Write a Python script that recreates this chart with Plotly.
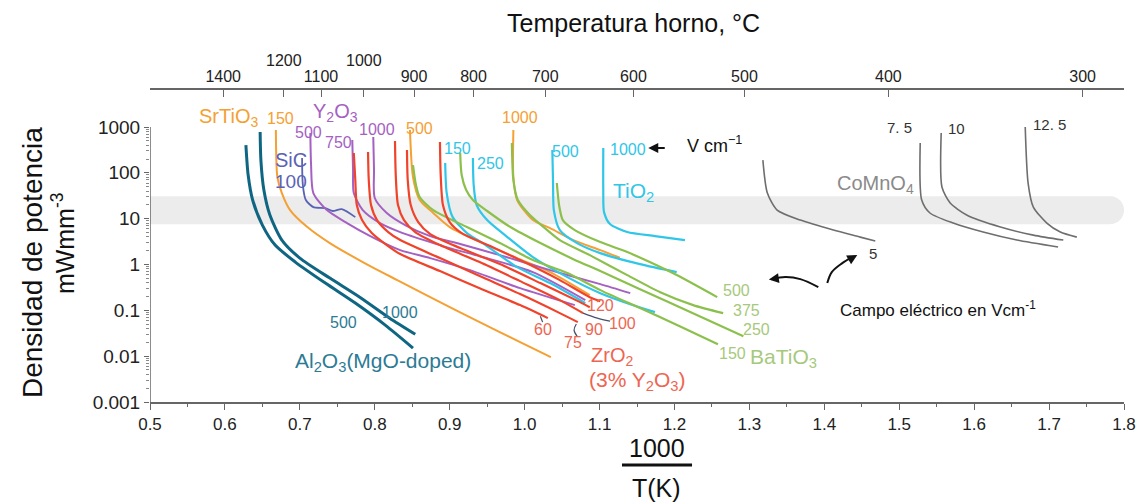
import numpy as np
import plotly.graph_objects as go

# ---------------- data: x = 1000/T (1/K), y = power density (mW/mm^3) ----------------
al2o3_500_x = [0.628, 0.631, 0.637, 0.650, 0.667, 0.694, 0.734, 0.774, 0.814, 0.851]
al2o3_500_y = [404, 89.5, 25.5, 7.25, 2.65, 1.13, 0.393, 0.144, 0.0475, 0.015]
al2o3_1000_x = [0.647, 0.648, 0.652, 0.660, 0.676, 0.700, 0.740, 0.780, 0.820, 0.854]
al2o3_1000_y = [778, 190, 42.1, 12.0, 3.41, 1.38, 0.505, 0.194, 0.0676, 0.0302]

srtio3_150_x = [0.668, 0.670, 0.676, 0.687, 0.710, 0.740, 0.784, 0.830, 0.874, 0.940, 0.994, 1.035]
srtio3_150_y = [860, 81, 36.2, 15.4, 6.56, 2.93, 1.13, 0.456, 0.194, 0.0553, 0.0202, 0.0095]
srtio3_500_x = [0.847, 0.851, 0.860, 0.878, 0.900, 0.944, 0.990, 1.034, 1.087]
srtio3_500_y = [860, 81, 25.5, 13.3, 6.56, 2.93, 1.38, 0.682, 0.215]
srtio3_1000_x = [0.985, 0.985, 0.990, 1.011, 1.034, 1.065, 1.101, 1.127]
srtio3_1000_y = [860, 81, 25.5, 9.31, 6.23, 3.41, 2.06, 1.40]

sic_100_x = [0.703, 0.704, 0.708, 0.718, 0.734, 0.744, 0.756, 0.774]
sic_100_y = [210, 54.2, 25.5, 17.9, 17.0, 14.7, 16.2, 10.8]

y2o3_500_x = [0.714, 0.715, 0.718, 0.736, 0.763, 0.794, 0.834, 0.874, 0.927, 0.994, 1.067]
y2o3_500_y = [740, 148, 36.2, 15.4, 8.02, 4.17, 2.06, 1.38, 0.755, 0.305, 0.130]
y2o3_750_x = [0.770, 0.771, 0.772, 0.784, 0.807, 0.834, 0.874, 0.900, 0.940, 1.011, 1.081]
y2o3_750_y = [520, 115, 36.2, 15.4, 8.02, 5.10, 3.08, 2.28, 1.52, 0.682, 0.167]
y2o3_1000_x = [0.798, 0.799, 0.800, 0.816, 0.843, 0.874, 0.914, 0.967, 1.034, 1.101, 1.141]
y2o3_1000_y = [605, 115, 28.2, 13.3, 6.89, 4.17, 2.79, 1.60, 0.755, 0.373, 0.237]

zro2_60_x = [0.772, 0.774, 0.776, 0.783, 0.796, 0.816, 0.834, 0.887, 0.940, 0.994, 1.031]
zro2_60_y = [271, 69.6, 19.8, 9.31, 4.85, 2.65, 1.69, 0.718, 0.305, 0.130, 0.0676]
zro2_75_x = [0.791, 0.792, 0.795, 0.803, 0.818, 0.834, 0.887, 0.940, 0.994, 1.047, 1.071]
zro2_75_y = [285, 69.6, 19.8, 9.31, 5.10, 3.41, 1.38, 0.558, 0.226, 0.0869, 0.0553]
zro2_90_x = [0.827, 0.828, 0.831, 0.839, 0.854, 0.887, 0.940, 0.994, 1.047, 1.078]
zro2_90_y = [494, 89.5, 19.8, 9.31, 5.10, 2.65, 1.13, 0.434, 0.167, 0.0869]
zro2_100_x = [0.843, 0.844, 0.848, 0.858, 0.874, 0.914, 0.967, 1.021, 1.074, 1.087]
zro2_100_y = [315, 69.6, 19.8, 8.43, 4.61, 2.28, 1.02, 0.393, 0.151, 0.117]
zro2_120_x = [0.887, 0.888, 0.891, 0.900, 0.916, 0.954, 0.994, 1.047, 1.087, 1.101]
zro2_120_y = [470, 89.5, 19.8, 8.43, 4.85, 2.52, 1.25, 0.456, 0.194, 0.158]

tio2_150_x = [0.894, 0.896, 0.904, 0.923, 0.944, 0.990, 1.034, 1.081]
tio2_150_y = [164, 36.2, 10.8, 4.85, 2.93, 0.877, 0.393, 0.144]
tio2_250_x = [0.931, 0.932, 0.936, 0.950, 0.977, 1.011, 1.057, 1.101, 1.141, 1.174]
tio2_250_y = [210, 54.2, 19.8, 9.31, 3.96, 1.45, 0.531, 0.237, 0.136, 0.0914]
tio2_500_x = [1.037, 1.038, 1.039, 1.047, 1.070, 1.101, 1.154, 1.203]
tio2_500_y = [315, 54.2, 15.4, 5.64, 2.93, 1.77, 1.02, 0.682]
tio2_1000_x = [1.105, 1.105, 1.106, 1.114, 1.137, 1.174, 1.214]
tio2_1000_y = [348, 42.1, 13.9, 7.62, 5.10, 4.17, 3.41]

batio3_150_x = [0.851, 0.855, 0.860, 0.878, 0.923, 0.967, 1.011, 1.057, 1.101, 1.154, 1.207, 1.258]
batio3_150_y = [148, 54.2, 29.6, 15.4, 6.56, 2.93, 1.25, 0.649, 0.276, 0.112, 0.0452, 0.0183]
batio3_250_x = [0.914, 0.916, 0.922, 0.931, 0.950, 0.981, 1.021, 1.065, 1.101, 1.154, 1.221, 1.292]
batio3_250_y = [271, 89.5, 42.1, 25.5, 14.7, 6.56, 2.93, 1.31, 0.718, 0.290, 0.0914, 0.0273]
batio3_375_x = [0.983, 0.985, 0.991, 1.007, 1.027, 1.047, 1.087, 1.137, 1.181, 1.225, 1.265]
batio3_375_y = [448, 69.6, 25.5, 12.0, 6.23, 3.41, 1.60, 0.587, 0.249, 0.130, 0.0869]
batio3_500_x = [1.043, 1.046, 1.051, 1.067, 1.101, 1.137, 1.167, 1.203, 1.257]
batio3_500_y = [59.9, 19.8, 9.31, 5.64, 3.08, 1.87, 1.13, 0.587, 0.194]

comno4_5_x = [1.318, 1.324, 1.337, 1.368, 1.412, 1.448, 1.468]
comno4_5_y = [190, 36.2, 15.4, 9.31, 5.64, 3.96, 3.24]
comno4_75_x = [1.528, 1.530, 1.541, 1.572, 1.612, 1.657, 1.712]
comno4_75_y = [448, 25.5, 13.3, 8.02, 5.10, 3.41, 2.40]
comno4_10_x = [1.556, 1.557, 1.568, 1.590, 1.635, 1.679, 1.719]
comno4_10_y = [740, 49.0, 21.9, 12.0, 6.56, 4.38, 3.41]
comno4_125_x = [1.668, 1.672, 1.679, 1.697, 1.715, 1.737]
comno4_125_y = [1223, 59.9, 17.9, 8.02, 5.10, 3.96]

# label leaders (ZrO2)
leader_100_x = [1.078, 1.097, 1.114]
leader_100_y = [0.0869, 0.0676, 0.058]
leader_75_x = [1.069, 1.066, 1.070]
leader_75_y = [0.0503, 0.037, 0.0273]
leader_60_x = [1.021, 1.024]
leader_60_y = [0.0746, 0.0553]

# axis ticks
x_ticks = [0.5, 0.6, 0.7, 0.8, 0.9, 1.0, 1.1, 1.2, 1.3, 1.4, 1.5, 1.6, 1.7, 1.8]
y_tickvals = [0.001, 0.01, 0.1, 1, 10, 100, 1000]
y_ticktext = ["0.001", "0.01", "0.1", "1", "10", "100", "1000"]
top_temps_c = [1400, 1200, 1100, 1000, 900, 800, 700, 600, 500, 400, 300]
top_raised = [1200, 1000]

# target band (mW/mm^3)
band_low, band_high = 7.6, 31.0

# ---------------- style ----------------
FONT = "Liberation Sans, Arial, sans-serif"
NARROW = "Liberation Sans Narrow, Liberation Sans, Arial, sans-serif"
TEAL = "#0f6683"
ORANGE = "#f5a033"
SIC = "#5a62b5"
PURPLE = "#a561c2"
RED = "#f0432b"
CYAN = "#2fc6e8"
GREEN = "#8cc04c"
GRAY = "#6e6e6e"
YDOM_TOP = (402 - 127) / 312.0

fig = go.Figure()

# band (filled polygon with rounded right end)
lc = (np.log10(band_low) + np.log10(band_high)) / 2
hh = (np.log10(band_high) - np.log10(band_low)) / 2
rx = 0.0187
xr_end = 1.8 - rx
t = np.linspace(-np.pi / 2, np.pi / 2, 25)
bx = [0.5] + list(xr_end + rx * np.cos(t)) + [0.5]
by = [band_low] + list(10 ** (lc + hh * np.sin(t))) + [band_high]
fig.add_trace(go.Scatter(x=bx, y=by, fill="toself", fillcolor="#ececec", mode="none",
                         hoverinfo="skip", showlegend=False))

curves = [
    (srtio3_150_x, srtio3_150_y, ORANGE, 2),
    (srtio3_500_x, srtio3_500_y, ORANGE, 2),
    (srtio3_1000_x, srtio3_1000_y, ORANGE, 2),
    (sic_100_x, sic_100_y, SIC, 1.8),
    (y2o3_500_x, y2o3_500_y, PURPLE, 2),
    (y2o3_750_x, y2o3_750_y, PURPLE, 2),
    (y2o3_1000_x, y2o3_1000_y, PURPLE, 2),
    (tio2_150_x, tio2_150_y, CYAN, 2.2),
    (tio2_250_x, tio2_250_y, CYAN, 2.2),
    (tio2_500_x, tio2_500_y, CYAN, 2.2),
    (tio2_1000_x, tio2_1000_y, CYAN, 2.2),
    (batio3_150_x, batio3_150_y, GREEN, 2.2),
    (batio3_250_x, batio3_250_y, GREEN, 2.2),
    (batio3_375_x, batio3_375_y, GREEN, 2.2),
    (batio3_500_x, batio3_500_y, GREEN, 2.2),
    (zro2_60_x, zro2_60_y, RED, 2.2),
    (zro2_75_x, zro2_75_y, RED, 2.2),
    (zro2_90_x, zro2_90_y, RED, 2.2),
    (zro2_100_x, zro2_100_y, RED, 2.2),
    (zro2_120_x, zro2_120_y, RED, 2.2),
    (al2o3_500_x, al2o3_500_y, TEAL, 3),
    (al2o3_1000_x, al2o3_1000_y, TEAL, 3),
    (comno4_5_x, comno4_5_y, GRAY, 1.6),
    (comno4_75_x, comno4_75_y, GRAY, 1.6),
    (comno4_10_x, comno4_10_y, GRAY, 1.6),
    (comno4_125_x, comno4_125_y, GRAY, 1.6),
]
for cx, cy, col, w in curves:
    fig.add_trace(go.Scatter(x=cx, y=cy, mode="lines",
                             line=dict(color=col, width=w, shape="spline", smoothing=0.7),
                             hoverinfo="skip", showlegend=False))

for lx, ly in [(leader_100_x, leader_100_y), (leader_75_x, leader_75_y), (leader_60_x, leader_60_y)]:
    fig.add_trace(go.Scatter(x=lx, y=ly, mode="lines", line=dict(color="#45506a", width=1.2, shape="spline"),
                             hoverinfo="skip", showlegend=False))

# curved arrows near "Campo eléctrico"
arrow1_x = [1.392, 1.368, 1.348, 1.330]
arrow1_y = [0.321, 0.48, 0.531, 0.48]
arrow2_x = [1.404, 1.410, 1.424, 1.437]
arrow2_y = [0.393, 0.682, 1.07, 1.45]
for ax_, ay_ in [(arrow1_x, arrow1_y), (arrow2_x, arrow2_y)]:
    fig.add_trace(go.Scatter(x=ax_, y=ay_, mode="lines", line=dict(color="#111", width=2, shape="spline"),
                             hoverinfo="skip", showlegend=False))

# y-axis line (only spanning 0.001..1000)
fig.add_trace(go.Scatter(x=[0.5, 0.5], y=[0.001, 1000], mode="lines", line=dict(color="#666", width=1.5),
                         hoverinfo="skip", showlegend=False, cliponaxis=False))

# dummy trace for top axis
top_vals = [1000.0 / (tc + 273.15) for tc in top_temps_c]
fig.add_trace(go.Scatter(x=[0.5, 1.8], y=[0, 1], xaxis="x2", yaxis="y2", mode="markers",
                         marker=dict(opacity=0), hoverinfo="skip", showlegend=False))


def ypaper(v):
    # position of a data value on the log y axis, expressed in paper units
    return (np.log10(v) + 3) / 6.0 * YDOM_TOP


def lab(text, x, y, color, size=16, family=FONT):
    fig.add_annotation(x=x, y=ypaper(y), xref="x", yref="paper", text=text, showarrow=False,
                       xanchor="center", yanchor="middle",
                       font=dict(color=color, size=size, family=family))


def ptext(text, x, y, size, angle=0):
    fig.add_annotation(x=x, y=y, xref="paper", yref="paper", text=text, showarrow=False,
                       xanchor="center", yanchor="middle", textangle=angle,
                       font=dict(size=size, family=FONT, color="#111"))


# labels
lab("SrTiO<sub>3</sub>", 0.605, 1573, ORANGE, 20)
lab("150", 0.674, 1496, ORANGE, 16)
lab("SiC", 0.688, 190, SIC, 20)
lab("100", 0.688, 66, SIC, 19)
lab("Y<sub>2</sub>O<sub>3</sub>", 0.747, 2023, PURPLE, 20)
lab("500", 0.712, 740, PURPLE, 16)
lab("750", 0.751, 470, PURPLE, 16)
lab("1000", 0.803, 904, PURPLE, 16)
lab("500", 0.860, 951, ORANGE, 16)
lab("1000", 0.994, 1573, ORANGE, 16)
lab("150", 0.910, 348, CYAN, 16)
lab("250", 0.954, 156, CYAN, 16)
lab("500", 1.054, 285, CYAN, 16)
lab("1000", 1.138, 331, CYAN, 16)
lab("TiO<sub>2</sub>", 1.145, 38, CYAN, 21)
lab("V cm<sup>−1</sup>", 1.254, 425, "#111", 18)
lab("CoMnO<sub>4</sub>", 1.468, 57, "#8a8a8a", 20)
lab("7. 5", 1.501, 1000, "#333", 15)
lab("10", 1.577, 951, "#333", 15)
lab("12. 5", 1.701, 1106, "#333", 15)
lab("5", 1.465, 1.77, "#333", 15)
lab("Campo eléctrico en Vcm<sup>-1</sup>", 1.552, 0.106, "#111", 17)
lab("500", 0.758, 0.0553, "#2c7b94", 16)
lab("1000", 0.834, 0.0914, "#2c7b94", 16)
lab("Al<sub>2</sub>O<sub>3</sub>(MgO-doped)", 0.811, 0.0074, "#2c7b94", 21)
lab("120", 1.101, 0.130, "#ee6552", 16)
lab("60", 1.025, 0.0389, "#ee6552", 16)
lab("75", 1.065, 0.0202, "#ee6552", 16)
lab("90", 1.093, 0.0389, "#ee6552", 16)
lab("100", 1.130, 0.0526, "#ee6552", 16)
lab("ZrO<sub>2</sub>", 1.117, 0.0100, "#ee6552", 20)
lab("(3% Y<sub>2</sub>O<sub>3</sub>)", 1.151, 0.00284, "#ee6552", 21)
lab("500", 1.283, 0.276, "#a6c97c", 16)
lab("375", 1.296, 0.101, "#a6c97c", 16)
lab("250", 1.310, 0.0389, "#a6c97c", 16)
lab("150", 1.277, 0.0116, "#a6c97c", 16)
lab("BaTiO<sub>3</sub>", 1.346, 0.00904, "#a6c97c", 21)

# arrowheads
fig.add_annotation(x=1.165, y=np.log10(348), xref="x", yref="y", text="", showarrow=True,
                   ax=18, ay=0, arrowhead=2, arrowsize=1, arrowwidth=2, arrowcolor="#111")
fig.add_annotation(x=1.326, y=np.log10(0.47), xref="x", yref="y", text="", showarrow=True,
                   ax=7, ay=-1, arrowhead=2, arrowsize=1, arrowwidth=2, arrowcolor="#111")
fig.add_annotation(x=1.444, y=np.log10(1.62), xref="x", yref="y", text="", showarrow=True,
                   ax=-7, ay=4, arrowhead=2, arrowsize=1, arrowwidth=2, arrowcolor="#111")

# raised top tick labels
for tc in top_raised:
    fig.add_annotation(x=1000.0 / (tc + 273.15), y=1.096, xref="x2", yref="paper", text=str(tc),
                       showarrow=False, xanchor="center", yanchor="middle",
                       font=dict(size=16, family=NARROW, color="#222"))

# titles
ptext("Temperatura horno, °C", 0.496, 1.215, 25)
ptext("Densidad de potencia", -0.1211, 0.4455, 28, -90)
ptext("mWmm<sup>-3</sup>", -0.0892, 0.5096, 25, -90)
ptext("1000", 0.5205, -0.147, 25)
ptext("T(K)", 0.5205, -0.2756, 25)
fig.add_shape(type="line", xref="paper", yref="paper", x0=0.4846, x1=0.5565, y0=-0.2019, y1=-0.2019,
              line=dict(color="#111", width=3))

fig.update_layout(
    width=1139, height=494,
    margin=dict(l=142, r=23, t=82, b=100, autoexpand=False),
    paper_bgcolor="white", plot_bgcolor="rgba(0,0,0,0)",
    showlegend=False,
    xaxis=dict(range=[0.5, 1.8], tickvals=x_ticks, ticktext=[f"{v:.1f}" for v in x_ticks],
               ticks="outside", ticklen=6, tickwidth=1.2, tickcolor="#666", automargin=False,
               minor=dict(dtick=0.05, tick0=0.5, ticks="outside", ticklen=3, tickcolor="#666", showgrid=False),
               showline=True, linecolor="#666", linewidth=1.5, showgrid=False, zeroline=False,
               tickfont=dict(size=17, family=NARROW, color="#222"), anchor="y"),
    yaxis=dict(type="log", range=[-3, 3], domain=[0, YDOM_TOP], tickvals=y_tickvals, ticktext=y_ticktext,
               ticks="outside", ticklen=5, tickwidth=1.2, tickcolor="#666", automargin=False,
               minor=dict(dtick="D1", ticks="outside", ticklen=3, tickcolor="#888", showgrid=False),
               showline=False, showgrid=False, zeroline=False,
               tickfont=dict(size=19, family=FONT, color="#222"), anchor="x"),
    xaxis2=dict(range=[0.5, 1.8], side="top", anchor="y2", tickvals=top_vals,
                ticktext=[" " if tc in top_raised else str(tc) for tc in top_temps_c],
                ticks="inside", ticklen=7, tickwidth=1.2, tickcolor="#666", automargin=False,
                showline=True, linecolor="#666", linewidth=1.5, showgrid=False, zeroline=False,
                tickfont=dict(size=16, family=NARROW, color="#222")),
    yaxis2=dict(range=[0, 1], domain=[0, 1], visible=False, anchor="x2"),
)

fig.write_html("out.html")
